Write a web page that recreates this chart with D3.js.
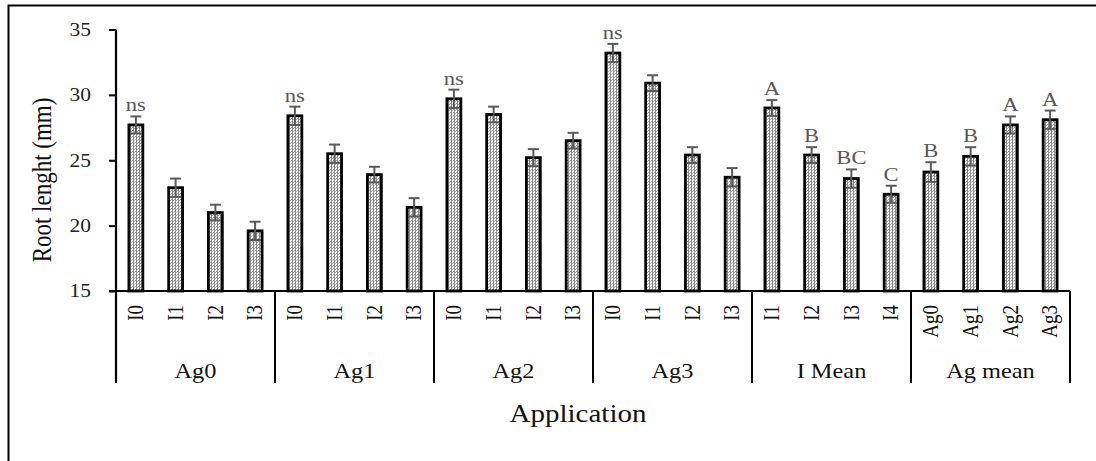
<!DOCTYPE html>
<html>
<head>
<meta charset="utf-8">
<script src="https://cdn.jsdelivr.net/npm/d3@7"></script>
<style>
  html, body { margin: 0; padding: 0; background: #fff; }
  svg { display: block; }
  text { font-family: "Liberation Serif", "Times New Roman", serif; }
</style>
</head>
<body>
<svg id="chart" width="1096" height="461"></svg>
<script>
// ---- data ----
const groups = ["Ag0", "Ag1", "Ag2", "Ag3", "I Mean", "Ag mean"];
const categories = [
  ["I0", "I1", "I2", "I3"],
  ["I0", "I1", "I2", "I3"],
  ["I0", "I1", "I2", "I3"],
  ["I0", "I1", "I2", "I3"],
  ["I1", "I2", "I3", "I4"],
  ["Ag0", "Ag1", "Ag2", "Ag3"]
];
const values = [
  27.7, 22.9, 21.0, 19.6,
  28.4, 25.5, 23.9, 21.4,
  29.7, 28.5, 25.2, 26.5,
  33.2, 30.9, 25.4, 23.7,
  29.0, 25.4, 23.6, 22.4,
  24.1, 25.3, 27.7, 28.1
];
const errors = [
  0.65, 0.70, 0.60, 0.70,
  0.70, 0.70, 0.60, 0.70,
  0.70, 0.60, 0.65, 0.60,
  0.70, 0.60, 0.60, 0.70,
  0.60, 0.60, 0.70, 0.65,
  0.75, 0.70, 0.65, 0.70
];
const letters = [
  "ns", "", "", "",
  "ns", "", "", "",
  "ns", "", "", "",
  "ns", "", "", "",
  "A", "B", "BC", "C",
  "B", "B", "A", "A"
];
const yTicks = [15, 20, 25, 30, 35];
const yTitle = "Root lenght (mm)";
const xTitle = "Application";

(function () {
// ---- build rows ----
const rows = [];
groups.forEach((g, gi) => {
  categories[gi].forEach((c, ci) => {
    const i = gi * 4 + ci;
    rows.push({ key: g + "|" + c, group: g, gi, cat: c, value: values[i], err: errors[i], letter: letters[i] });
  });
});

const svg = d3.select("#chart");
const SX = 1.16; // horizontal stretch of text in reference

// pattern
const defs = svg.append("defs");
const pat = defs.append("pattern").attr("id", "dots").attr("patternUnits", "userSpaceOnUse")
  .attr("width", 3).attr("height", 3);
pat.append("rect").attr("width", 3).attr("height", 3).attr("fill", "#fff");
pat.append("rect").attr("x", 1).attr("y", 0).attr("width", 1).attr("height", 3).attr("fill", "#8a8a8a");
pat.append("rect").attr("x", 0).attr("y", 1).attr("width", 1).attr("height", 1).attr("fill", "#9a9a9a");
pat.append("rect").attr("x", 2).attr("y", 2).attr("width", 1).attr("height", 1).attr("fill", "#b0b0b0");

// outer border
svg.append("rect").attr("x", 8.5).attr("y", 5.5).attr("width", 1200).attr("height", 600)
  .attr("fill", "none").attr("stroke", "#000").attr("stroke-width", 2);

const pLeft = 116, pRight = 1070, pTop = 29.5, pBottom = 291, catBottom = 383;

const x = d3.scaleBand().domain(rows.map(r => r.key)).range([pLeft, pRight])
  .paddingInner(0.65).paddingOuter(0.325);
const y = d3.scaleLinear().domain([15, 35]).range([pBottom, pTop]);

// y axis
const yAxis = svg.append("g").attr("transform", `translate(${pLeft},0)`)
  .call(d3.axisLeft(y).tickValues(yTicks).tickSize(7).tickFormat(d3.format("d")));
yAxis.select(".domain").remove();
yAxis.selectAll(".tick line").attr("stroke", "#000").attr("stroke-width", 2);
yAxis.selectAll(".tick text")
  .attr("font-size", 18.5).attr("fill", "#222")
  .attr("font-family", "Liberation Serif")
  .attr("x", 0).attr("text-anchor", "end")
  .attr("transform", `translate(-25,0) scale(${SX},1)`);

// vertical axis line (extends into category area)
svg.append("line").attr("x1", pLeft).attr("x2", pLeft).attr("y1", pTop).attr("y2", catBottom)
  .attr("stroke", "#000").attr("stroke-width", 2.2);

// x axis line
svg.append("line").attr("x1", pLeft - 7).attr("x2", pRight).attr("y1", pBottom).attr("y2", pBottom)
  .attr("stroke", "#000").attr("stroke-width", 2.2);

// group dividers
const step = x.step();
groups.forEach((g, gi) => {
  const xd = pLeft + step * 4 * (gi + 1);
  svg.append("line").attr("x1", xd).attr("x2", xd).attr("y1", pBottom).attr("y2", catBottom)
    .attr("stroke", "#000").attr("stroke-width", 2);
});

// bars
svg.append("g").selectAll("rect").data(rows).join("rect")
  .attr("x", d => x(d.key)).attr("width", x.bandwidth())
  .attr("y", d => y(d.value)).attr("height", d => y(15) - y(d.value))
  .attr("fill", "url(#dots)").attr("stroke", "#000").attr("stroke-width", 2.8);

// error bars
const eb = svg.append("g").attr("stroke", "#595959").attr("stroke-width", 2).attr("fill", "none");
rows.forEach(d => {
  const cx = x(d.key) + x.bandwidth() / 2;
  const y1 = y(d.value + d.err), y0 = y(d.value - d.err);
  eb.append("line").attr("x1", cx).attr("x2", cx).attr("y1", y1).attr("y2", y0);
  eb.append("line").attr("x1", cx - 5.5).attr("x2", cx + 5.5).attr("y1", y1).attr("y2", y1);
  eb.append("line").attr("x1", cx - 5.5).attr("x2", cx + 5.5).attr("y1", y0).attr("y2", y0);
});

// letters
svg.append("g").selectAll("text").data(rows.filter(d => d.letter)).join("text")
  .attr("transform", d => `translate(${x(d.key) + x.bandwidth() / 2},${y(d.value + d.err) - 5}) scale(${SX},1)`)
  .attr("text-anchor", "middle").attr("font-size", 19.5).attr("fill", "#595959")
  .text(d => d.letter);

// category labels (rotated)
svg.append("g").selectAll("text").data(rows).join("text")
  .attr("transform", d => `translate(${x(d.key) + x.bandwidth() / 2},305) scale(${SX},1) rotate(-90)`)
  .attr("text-anchor", "end").attr("dy", "0.33em").attr("font-size", 19).attr("fill", "#111")
  .text(d => d.cat);

// group labels
svg.append("g").selectAll("text").data(groups).join("text")
  .attr("transform", (g, gi) => `translate(${pLeft + step * (4 * gi + 2)},378) scale(${SX},1)`)
  .attr("text-anchor", "middle").attr("font-size", 21).attr("fill", "#111")
  .text(g => g);

// axis titles
svg.append("text")
  .attr("transform", `translate(578,421.5) scale(${SX},1)`)
  .attr("text-anchor", "middle").attr("font-size", 25).attr("fill", "#111")
  .text(xTitle);

svg.append("text")
  .attr("transform", `translate(42,180) scale(${SX},1) rotate(-90)`)
  .attr("text-anchor", "middle").attr("dy", "0.35em").attr("font-size", 23).attr("fill", "#111")
  .text(yTitle);
})();
</script>
</body>
</html>
